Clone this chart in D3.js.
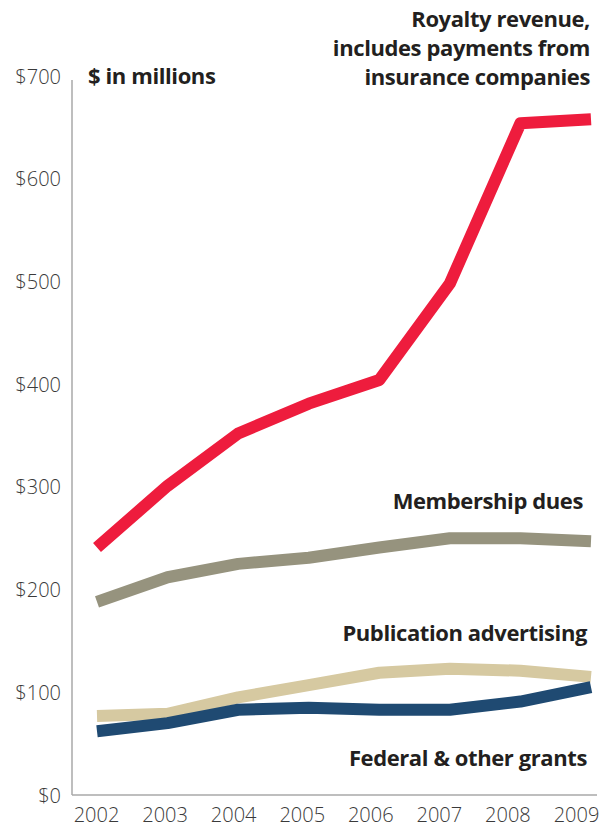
<!DOCTYPE html>
<html><head><meta charset="utf-8">
<script src="https://cdn.jsdelivr.net/npm/d3@7"></script>
<style>body{margin:0;background:#fff;} svg{display:block;}</style>
</head><body>
<script>
const years = [2002,2003,2004,2005,2006,2007,2008,2009];
const royalty = [241,301,352,381,404,498,654,658];
const membership = [188,212,225,231,241,250,250,247];
const publication = [77,79,95,107,119,123,121,115];
const federal = [62,70,83,85,83,83,91,105];
const yTicks = [0,100,200,300,400,500,600,700];

const W=613,H=832;
const svg=d3.select("body").append("svg").attr("width",W).attr("height",H);
const x=d3.scalePoint().domain(years).range([97,591]);
const xLab=d3.scalePoint().domain(years).range([96,576]);
const y=d3.scaleLinear().domain([0,700]).range([795,76]);

// axes
const yAxis=d3.axisLeft(y).tickValues(yTicks).tickSize(0).tickPadding(11).tickFormat(d=>"$"+d);
const gy=svg.append("g").attr("transform","translate(72,0)").call(yAxis);
gy.select(".domain").remove();
gy.selectAll("text").attr("font-family","'Open Sans',sans-serif").attr("font-weight",300).attr("font-size",20).attr("fill","#3a3a3a").attr("dy","0.35em");
svg.append("line").attr("x1",72).attr("x2",72).attr("y1",y(700)+4).attr("y2",y(0)).attr("stroke","#a8a8a8").attr("stroke-width",1.5);
svg.append("line").attr("x1",72).attr("x2",597).attr("y1",y(0)).attr("y2",y(0)).attr("stroke","#a8a8a8").attr("stroke-width",1.5);
const xAxis=d3.axisBottom(xLab).tickSize(0).tickPadding(13);
const gx=svg.append("g").attr("transform",`translate(0,${y(0)})`).call(xAxis);
gx.select(".domain").remove();
gx.selectAll("text").attr("font-family","'Open Sans',sans-serif").attr("font-weight",300).attr("font-size",20).attr("fill","#3a3a3a");

const series=[
 {vals:federal,color:"#1f4a72"},
 {vals:publication,color:"#d6c9a1"},
 {vals:membership,color:"#96937e"},
 {vals:royalty,color:"#ee1c3d"}
];
const order=[series[1],series[0],series[2],series[3]];
const line=d3.line().x((d,i)=>x(years[i])).y(d=>y(d));
svg.selectAll("path.s").data(order).join("path").attr("class","s")
 .attr("d",d=>line(d.vals)).attr("fill","none").attr("stroke",d=>d.color)
 .attr("stroke-width",12).attr("stroke-linejoin","round").attr("stroke-linecap","butt");

// labels
const lab=(t,xx,yy,anchor)=>svg.append("text").text(t).attr("x",xx).attr("y",yy)
 .attr("text-anchor",anchor||"end").attr("font-family","'Open Sans',sans-serif")
 .attr("font-weight",700).attr("font-size",22).attr("fill","#231f20").attr("letter-spacing","-0.4");
lab("$ in millions",88,84,"start");
lab("Royalty revenue,",590,27);
lab("includes payments from",590,56);
lab("insurance companies",590,85);
lab("Membership dues",583,509);
lab("Publication advertising",587,641);
lab("Federal & other grants",587,766);
</script>
</body></html>
